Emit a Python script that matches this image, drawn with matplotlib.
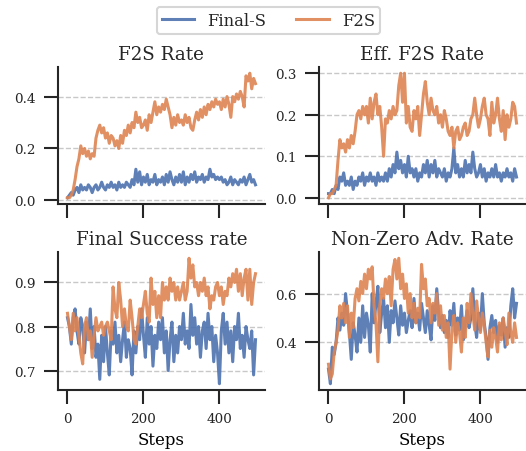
import numpy as np
import matplotlib
matplotlib.use("Agg")
import matplotlib.pyplot as plt

steps = np.arange(0, 500, 5)

titles = ["F2S Rate", "Eff. F2S Rate", "Final Success rate", "Non-Zero Adv. Rate"]
series_names = ["Final-S", "F2S"]

f2s_rate_final = [
    0.01, 0.02, 0.03, 0.02, 0.04, 0.05, 0.03, 0.06, 0.04, 0.05,
    0.04, 0.06, 0.05, 0.03, 0.05, 0.06, 0.04, 0.05, 0.07, 0.05,
    0.04, 0.06, 0.05, 0.07, 0.05, 0.06, 0.04, 0.07, 0.05, 0.06,
    0.05, 0.07, 0.06, 0.05, 0.08, 0.06, 0.12, 0.07, 0.11, 0.06,
    0.09, 0.07, 0.10, 0.06, 0.08, 0.07, 0.10, 0.06, 0.08, 0.07,
    0.09, 0.06, 0.10, 0.07, 0.11, 0.08, 0.06, 0.09, 0.07, 0.10,
    0.07, 0.11, 0.06, 0.09, 0.07, 0.10, 0.08, 0.11, 0.07, 0.09,
    0.08, 0.10, 0.07, 0.09, 0.08, 0.12, 0.09, 0.10, 0.08, 0.09,
    0.08, 0.09, 0.07, 0.08, 0.06, 0.07, 0.09, 0.06, 0.08, 0.07,
    0.06, 0.08, 0.07, 0.09, 0.06, 0.08, 0.10, 0.07, 0.08, 0.06,
]
f2s_rate_f2s = [
    0.01, 0.01, 0.02, 0.04, 0.08, 0.13, 0.16, 0.21, 0.18, 0.20,
    0.17, 0.19, 0.16, 0.18, 0.17, 0.24, 0.27, 0.29, 0.26, 0.28,
    0.24, 0.26, 0.22, 0.25, 0.24, 0.21, 0.23, 0.20, 0.25, 0.22,
    0.27, 0.25, 0.29, 0.26, 0.30, 0.28, 0.34, 0.30, 0.32, 0.28,
    0.29, 0.31, 0.27, 0.33, 0.30, 0.34, 0.38, 0.33, 0.36, 0.34,
    0.37, 0.35, 0.39, 0.36, 0.33, 0.28, 0.32, 0.29, 0.33, 0.30,
    0.31, 0.29, 0.33, 0.30, 0.32, 0.28, 0.27, 0.31, 0.34, 0.31,
    0.35, 0.32, 0.36, 0.33, 0.37, 0.35, 0.38, 0.36, 0.39, 0.37,
    0.38, 0.35, 0.39, 0.36, 0.40, 0.37, 0.32, 0.40, 0.38, 0.41,
    0.39, 0.42, 0.40, 0.36, 0.48, 0.46, 0.49, 0.43, 0.47, 0.45,
]
eff_final = [
    0.01, 0.01, 0.02, 0.01, 0.03, 0.02, 0.05, 0.04, 0.06, 0.03,
    0.04, 0.03, 0.05, 0.02, 0.04, 0.03, 0.05, 0.04, 0.06, 0.03,
    0.05, 0.04, 0.06, 0.04, 0.05, 0.03, 0.06, 0.04, 0.05, 0.04,
    0.06, 0.04, 0.07, 0.05, 0.08, 0.06, 0.11, 0.07, 0.09, 0.06,
    0.08, 0.05, 0.10, 0.06, 0.07, 0.05, 0.07, 0.04, 0.06, 0.05,
    0.08, 0.06, 0.09, 0.05, 0.08, 0.06, 0.09, 0.05, 0.07, 0.06,
    0.05, 0.07, 0.04, 0.06, 0.05, 0.07, 0.12, 0.06, 0.08, 0.05,
    0.07, 0.05, 0.09, 0.06, 0.08, 0.06, 0.11, 0.07, 0.05, 0.06,
    0.08, 0.05, 0.07, 0.04, 0.06, 0.05, 0.07, 0.05, 0.08, 0.05,
    0.06, 0.04, 0.06, 0.05, 0.07, 0.05, 0.06, 0.04, 0.07, 0.05,
]
eff_f2s = [
    0.00, 0.01, 0.01, 0.02, 0.03, 0.09, 0.14, 0.12, 0.13, 0.11,
    0.14, 0.12, 0.15, 0.13, 0.16, 0.20, 0.21, 0.19, 0.22, 0.20,
    0.22, 0.18, 0.24, 0.19, 0.23, 0.25, 0.20, 0.22, 0.17, 0.10,
    0.19, 0.18, 0.21, 0.19, 0.22, 0.20, 0.21, 0.27, 0.30, 0.23,
    0.30, 0.18, 0.22, 0.17, 0.16, 0.21, 0.19, 0.22, 0.15, 0.20,
    0.25, 0.28, 0.23, 0.20, 0.24, 0.21, 0.20, 0.22, 0.18, 0.20,
    0.17, 0.21, 0.19, 0.16, 0.15, 0.17, 0.12, 0.16, 0.17, 0.14,
    0.15, 0.17, 0.18, 0.15, 0.16, 0.19, 0.20, 0.24, 0.20, 0.17,
    0.19, 0.22, 0.24, 0.20, 0.19, 0.15, 0.23, 0.18, 0.20, 0.24,
    0.19, 0.16, 0.21, 0.14, 0.20, 0.17, 0.19, 0.23, 0.22, 0.18,
]
success_final = [
    0.82, 0.80, 0.76, 0.82, 0.84, 0.79, 0.76, 0.82, 0.80, 0.74,
    0.81, 0.77, 0.84, 0.75, 0.80, 0.73, 0.76, 0.68, 0.78, 0.72,
    0.80, 0.74, 0.69, 0.79, 0.76, 0.81, 0.74, 0.78, 0.72, 0.77,
    0.81, 0.73, 0.77, 0.75, 0.69, 0.79, 0.74, 0.80, 0.77, 0.84,
    0.78, 0.73, 0.82, 0.76, 0.80, 0.71, 0.78, 0.75, 0.81, 0.77,
    0.82, 0.74, 0.79, 0.70, 0.77, 0.81, 0.72, 0.78, 0.74, 0.80,
    0.77, 0.83, 0.76, 0.79, 0.75, 0.85, 0.78, 0.82, 0.76, 0.80,
    0.73, 0.79, 0.81, 0.75, 0.83, 0.77, 0.80, 0.72, 0.78, 0.74,
    0.67, 0.79, 0.83, 0.76, 0.81, 0.74, 0.79, 0.72, 0.80, 0.77,
    0.83, 0.75, 0.78, 0.73, 0.80, 0.77, 0.75, 0.79, 0.69, 0.77,
]
success_f2s = [
    0.83, 0.80, 0.77, 0.83, 0.79, 0.82, 0.78, 0.74, 0.715, 0.80,
    0.82, 0.77, 0.79, 0.73, 0.78, 0.82, 0.79, 0.80, 0.81, 0.78,
    0.80, 0.81, 0.79, 0.77, 0.89, 0.84, 0.82, 0.90, 0.86, 0.80,
    0.84, 0.80, 0.79, 0.86, 0.82, 0.77, 0.76, 0.80, 0.84, 0.82,
    0.85, 0.88, 0.83, 0.81, 0.91, 0.85, 0.88, 0.82, 0.87, 0.82,
    0.90, 0.86, 0.89, 0.86, 0.91, 0.88, 0.90, 0.86, 0.89, 0.86,
    0.88, 0.90, 0.86, 0.88, 0.955, 0.91, 0.94, 0.89, 0.90, 0.87,
    0.90, 0.88, 0.91, 0.87, 0.89, 0.84, 0.87, 0.86, 0.89, 0.90,
    0.87, 0.89, 0.85, 0.88, 0.87, 0.91, 0.89, 0.92, 0.90, 0.93,
    0.88, 0.92, 0.87, 0.91, 0.93, 0.86, 0.93, 0.85, 0.90, 0.92,
]
nonzero_final = [
    0.29, 0.23, 0.38, 0.35, 0.40, 0.50, 0.45, 0.52, 0.47, 0.60,
    0.52, 0.44, 0.33, 0.48, 0.43, 0.36, 0.50, 0.40, 0.55, 0.42,
    0.52, 0.47, 0.36, 0.60, 0.48, 0.56, 0.63, 0.44, 0.52, 0.58,
    0.46, 0.55, 0.40, 0.53, 0.48, 0.57, 0.50, 0.43, 0.55, 0.47,
    0.52, 0.44, 0.49, 0.53, 0.46, 0.58, 0.48, 0.52, 0.45, 0.56,
    0.50, 0.44, 0.53, 0.47, 0.41, 0.55, 0.49, 0.62, 0.52, 0.46,
    0.51, 0.44, 0.49, 0.42, 0.53, 0.47, 0.56, 0.43, 0.50, 0.45,
    0.55, 0.41, 0.48, 0.53, 0.46, 0.50, 0.62, 0.48, 0.42, 0.52,
    0.45, 0.60, 0.48, 0.42, 0.33, 0.46, 0.51, 0.44, 0.49, 0.40,
    0.47, 0.43, 0.50, 0.38, 0.46, 0.42, 0.55, 0.62, 0.50, 0.56,
]
nonzero_f2s = [
    0.31, 0.25, 0.27, 0.36, 0.40, 0.45, 0.55, 0.50, 0.56, 0.48,
    0.55, 0.42, 0.52, 0.46, 0.58, 0.62, 0.57, 0.65, 0.60, 0.68,
    0.62, 0.70, 0.66, 0.71, 0.55, 0.48, 0.32, 0.55, 0.62, 0.58,
    0.66, 0.60, 0.67, 0.55, 0.70, 0.74, 0.66, 0.745, 0.62, 0.68,
    0.58, 0.64, 0.52, 0.60, 0.50, 0.56, 0.48, 0.54, 0.50, 0.72,
    0.62, 0.66, 0.55, 0.58, 0.48, 0.56, 0.52, 0.60, 0.47, 0.55,
    0.45, 0.51, 0.42, 0.48, 0.29, 0.45, 0.51, 0.40, 0.48, 0.44,
    0.36, 0.50, 0.42, 0.56, 0.48, 0.60, 0.52, 0.45, 0.57, 0.50,
    0.44, 0.52, 0.47, 0.40, 0.34, 0.45, 0.38, 0.46, 0.42, 0.36,
    0.48, 0.41, 0.50, 0.45, 0.39, 0.52, 0.44, 0.40, 0.48, 0.42,
]

panel_data = [
    (f2s_rate_final, f2s_rate_f2s),
    (eff_final, eff_f2s),
    (success_final, success_f2s),
    (nonzero_final, nonzero_f2s),
]
yticks = [[0.0, 0.2, 0.4], [0.0, 0.1, 0.2, 0.3], [0.7, 0.8, 0.9], [0.4, 0.6]]
colors = ["#4C72B0", "#DD8452"]

plt.rcParams["font.family"] = ["DejaVu Serif"]
plt.rcParams["axes.linewidth"] = 1.5
plt.rcParams["axes.edgecolor"] = "#262626"
plt.rcParams["text.color"] = "#262626"
plt.rcParams["xtick.color"] = "#262626"
plt.rcParams["ytick.color"] = "#262626"

fig = plt.figure(figsize=(5.26, 4.52), dpi=100)
W, H = 526, 452
# pixel boxes: left, top, width, height
boxes = [(58, 68, 207, 137), (319, 68, 207, 137),
         (58, 253, 207, 138), (319, 253, 207, 138)]

axes = []
for i, (l, t, w, h) in enumerate(boxes):
    ax = fig.add_axes([l / W, 1 - (t + h) / H, w / W, h / H])
    final, f2s = panel_data[i]
    ax.plot(steps, final, color=colors[0], lw=2.2, alpha=0.9, label=series_names[0])
    ax.plot(steps, f2s, color=colors[1], lw=2.2, alpha=0.9, label=series_names[1])
    ax.set_xlim(-25, 520)
    ax.set_xticks([0, 200, 400])
    ax.set_yticks(yticks[i])
    ax.yaxis.grid(True, linestyle="--", color="#c8c8c8", lw=1)
    ax.set_axisbelow(True)
    for s in ["top", "right"]:
        ax.spines[s].set_visible(False)
    ax.tick_params(length=10, width=1.5, pad=6, labelsize=9.7)
    ax.set_title(titles[i], fontsize=13.2, pad=6)
    if i < 2:
        ax.set_xticklabels([])
    else:
        ax.set_xlabel("Steps", fontsize=12, labelpad=4)
    axes.append(ax)

handles, labels = axes[0].get_legend_handles_labels()
leg = fig.legend(handles, labels, loc="upper center", bbox_to_anchor=(0.51, 1.0),
                 ncol=2, fontsize=11.8, frameon=True, fancybox=True,
                 borderpad=0.3, columnspacing=1.8, handletextpad=0.8)
leg.get_frame().set_edgecolor("#cccccc")
leg.get_frame().set_linewidth(1.5)

fig.savefig("out.png", dpi=100)
